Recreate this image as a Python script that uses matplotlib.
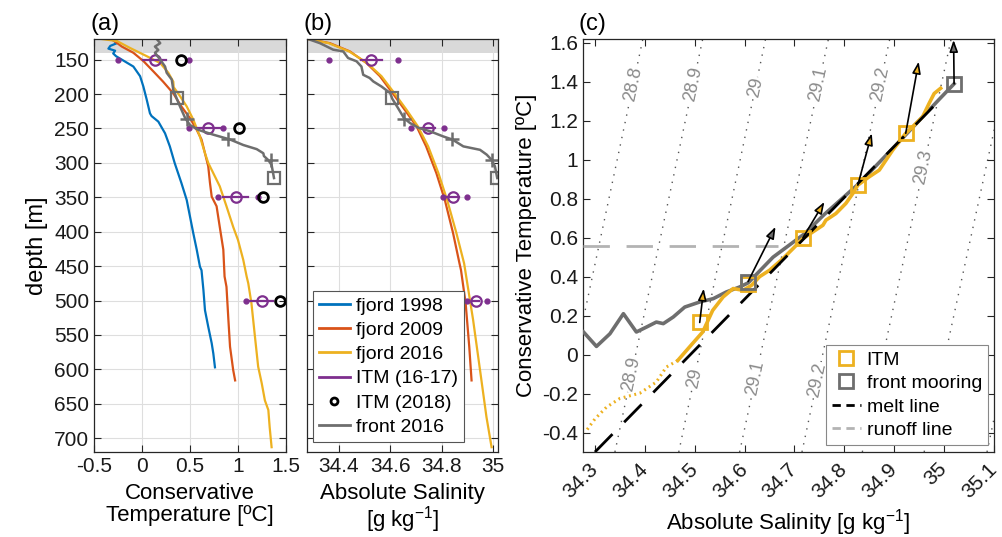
import numpy as np
import matplotlib
matplotlib.use('Agg')
import matplotlib.pyplot as plt
from matplotlib.lines import Line2D
from matplotlib.ticker import FuncFormatter

plt.rcParams['font.family'] = ['Liberation Sans', 'DejaVu Sans']
plt.rcParams['axes.unicode_minus'] = False
plt.rcParams['mathtext.default'] = 'regular'

c_blue = '#0072BD'
c_red = '#D95319'
c_yel = '#EDB120'
c_pur = '#7E2F8E'
c_gray = '#6e6e6e'
c_lgray = '#b3b3b3'
c_ax = '#262626'

# ---- panel (a): temperature profiles ----
d98 = [122, 126, 130, 134, 137, 141, 145, 150, 160, 174, 189, 208, 228, 232, 240, 257, 276, 300,
       329, 354, 378, 402, 426, 451, 456, 485, 514, 538, 562, 577, 597]
t98 = [-0.30, -0.26, -0.33, -0.35, -0.28, -0.30, -0.27, -0.21, -0.09, -0.02, 0.014, 0.049, 0.083,
       0.10, 0.17, 0.24, 0.29, 0.34, 0.41, 0.466, 0.50, 0.534, 0.57, 0.604, 0.62, 0.64, 0.656,
       0.69, 0.726, 0.743, 0.76]

d09 = [120, 131, 140, 152, 167, 182, 199, 218, 235, 252, 266, 286, 305, 329, 349, 363, 393, 426,
       465, 480, 528, 567, 601, 616]
t09 = [-0.316, -0.21, -0.09, 0.014, 0.118, 0.22, 0.326, 0.41, 0.50, 0.57, 0.62, 0.656, 0.69,
       0.708, 0.726, 0.777, 0.81, 0.847, 0.86, 0.88, 0.90, 0.917, 0.95, 0.97]

d16 = [120, 123, 133, 145, 155, 169, 182, 190, 203, 218, 237, 262, 286, 300, 315, 334, 363, 393,
       412, 441, 465, 475, 504, 553, 596, 620, 645, 659, 684, 713]
t16 = [-0.42, -0.26, -0.125, 0.05, 0.19, 0.274, 0.326, 0.33, 0.396, 0.466, 0.534, 0.604, 0.656,
       0.69, 0.743, 0.81, 0.88, 0.95, 1.0, 1.055, 1.09, 1.107, 1.14, 1.177, 1.21, 1.247, 1.28,
       1.316, 1.33, 1.35]

dfr = [120, 126, 131, 136, 140, 150, 160, 169, 179, 194, 206, 218, 235, 245, 252, 259, 266, 274,
       280, 286, 290, 296, 303, 322]
tfr = [0.153, 0.19, 0.135, 0.17, 0.135, 0.19, 0.24, 0.257, 0.31, 0.326, 0.36, 0.396, 0.45, 0.50,
       0.587, 0.743, 0.917, 1.055, 1.195, 1.264, 1.27, 1.316, 1.35, 1.375]
dfr_sq = [206, 322]
tfr_sq = [0.36, 1.375]
dfr_pl = [236, 266, 295.5]
tfr_pl = [0.466, 0.90, 1.34]

itm_d = [150, 250, 350, 500]
itm_t = [0.135, 0.69, 0.976, 1.245]
itm_t_sd = [0.12, 0.14, 0.13, 0.12]
itm_t_min = [-0.247, 0.49, 0.795, 1.08]
itm_t_max = [0.49, 0.84, 1.21, 1.514]
itm18_t = [0.403, 1.014, 1.264, 1.44]

# ---- panel (b): salinity profiles ----
d09s = [120, 126, 138, 155, 174, 199, 223, 247, 276, 315, 354, 402, 446, 456, 504, 567, 616]
s09 = [34.28, 34.365, 34.443, 34.508, 34.56, 34.61, 34.657, 34.703, 34.74, 34.78, 34.813, 34.845,
       34.87, 34.876, 34.894, 34.908, 34.917]
d16s = [120, 126, 138, 155, 174, 199, 223, 247, 276, 315, 354, 402, 446, 528, 601, 669, 713]
s16 = [34.28, 34.36, 34.44, 34.51, 34.566, 34.617, 34.664, 34.708, 34.748, 34.788, 34.822,
       34.858, 34.888, 34.923, 34.95, 34.975, 34.995]
dfr_b = [120, 126, 135.5, 138, 147.6, 152.4, 160, 172, 176.6, 181.6, 189, 198.5, 206.7, 220, 235,
         242, 249, 254, 261.6, 266, 276, 281, 288, 295.5, 305, 322]
sfr = [34.28, 34.326, 34.378, 34.417, 34.436, 34.469, 34.488, 34.495, 34.52, 34.534, 34.566, 34.60,
       34.608, 34.63, 34.654, 34.677, 34.71, 34.755, 34.807, 34.842, 34.885, 34.95, 34.976,
       34.995, 35.008, 35.017]
sfr_sq = [34.608, 35.017]
sfr_pl = [34.654, 34.842, 34.995]
itm_s = [34.527, 34.748, 34.845, 34.933]
itm_s_sd = [0.04, 0.026, 0.025, 0.012]
itm_s_min = [34.362, 34.68, 34.804, 34.898]
itm_s_max = [34.629, 34.81, 34.90, 34.976]

# ---- panel (c): T-S diagram ----
sig_val = ['28.8', '28.9', '29', '29.1', '29.2', '29.3', '29.4', '29.5']
sig_s_bot = [34.22, 34.34, 34.468, 34.59, 34.715, 34.836, 34.96, 35.086]
sig_s_top = [34.396, 34.516, 34.642, 34.768, 34.891, 35.014, 35.14, 35.26]
sig_lab_val = ['28.8', '28.9', '29', '29.1', '29.2', '29.3', '28.9', '29', '29.1', '29.2']
sig_lab_t = [1.39, 1.39, 1.37, 1.39, 1.39, 0.965, -0.10, -0.12, -0.12, -0.13]

sfc = [34.277, 34.303, 34.33, 34.357, 34.383, 34.403, 34.423, 34.437, 34.457, 34.48, 34.51,
       34.537, 34.563, 34.59, 34.607, 34.657, 34.72, 34.76, 34.83, 34.92, 34.99, 35.02]
tfc = [0.116, 0.042, 0.107, 0.21, 0.116, 0.141, 0.167, 0.159, 0.193, 0.244, 0.27, 0.287, 0.321,
       0.347, 0.368, 0.50, 0.62, 0.72, 0.88, 1.12, 1.31, 1.39]

sit = [34.466, 34.496, 34.516, 34.536, 34.557, 34.577, 34.597, 34.614, 34.63, 34.65, 34.677,
       34.697, 34.717, 34.737, 34.757, 34.763, 34.783, 34.803, 34.817, 34.827, 34.85, 34.87,
       34.897, 34.923, 34.937, 34.957, 34.97, 34.98, 34.993]
tit = [-0.03, 0.058, 0.116, 0.227, 0.296, 0.339, 0.33, 0.356, 0.40, 0.433, 0.493, 0.544, 0.596,
       0.63, 0.664, 0.69, 0.724, 0.776, 0.827, 0.87, 0.913, 0.947, 1.05, 1.136, 1.17, 1.221,
       1.29, 1.34, 1.367]
sit_ext = [34.466, 34.443, 34.423, 34.39, 34.35, 34.323, 34.30, 34.28]
tit_ext = [-0.03, -0.064, -0.141, -0.198, -0.225, -0.27, -0.33, -0.40]

itm_sq_s = [34.51, 34.607, 34.717, 34.827, 34.923]
itm_sq_t = [0.165, 0.36, 0.60, 0.87, 1.136]
fm_sq_s = [34.606, 35.02]
fm_sq_t = [0.375, 1.39]

arr_s0 = [34.51, 34.607, 34.717, 34.827, 34.923, 35.02]
arr_t0 = [0.165, 0.375, 0.60, 0.87, 1.136, 1.39]
arr_s1 = [34.518, 34.662, 34.76, 34.855, 34.949, 35.019]
arr_t1 = [0.339, 0.656, 0.784, 1.136, 1.504, 1.615]
arr_col = [c_yel, c_gray, c_yel, c_yel, c_yel, c_gray]

melt_s = [34.30, 35.0]
melt_t = [-0.5, 1.33]
runoff_s = [34.276, 34.666]
runoff_t = [0.56, 0.56]

fig = plt.figure(figsize=(10.03, 5.37), dpi=100)
W, H = 1003.0, 537.0
bot = 1 - 452 / H
hgt = 413 / H
ax_a = fig.add_axes([94 / W, bot, 192 / W, hgt])
ax_b = fig.add_axes([307 / W, bot, 191 / W, hgt])
ax_c = fig.add_axes([583 / W, bot, 411 / W, hgt])

fmt = FuncFormatter(lambda v, p: '%g' % round(v, 4))


def style(ax):
    for sp in ax.spines.values():
        sp.set_color(c_ax)
        sp.set_linewidth(0.9)
    ax.tick_params(direction='in', top=True, right=True, length=5, width=0.8,
                   colors=c_ax, labelsize=15, labelcolor='#1a1a1a')
    ax.xaxis.set_major_formatter(fmt)
    ax.yaxis.set_major_formatter(fmt)


# panel (a)
ax = ax_a
ax.axhspan(120, 140, color='#d9d9d9', zorder=0.5, lw=0)
ax.plot(t98, d98, color=c_blue, lw=1.6)
ax.plot(t09, d09, color=c_red, lw=1.6)
ax.plot(t16, d16, color=c_yel, lw=1.6)
for i in range(len(itm_d)):
    ax.plot([itm_t[i] - itm_t_sd[i], itm_t[i] + itm_t_sd[i]], [itm_d[i], itm_d[i]], color=c_pur, lw=1.6)
ax.plot(itm_t, itm_d, 'o', mfc='none', mec=c_pur, ms=7.5, mew=1.6)
ax.plot(itm_t_min + itm_t_max, itm_d + itm_d, 'o', color=c_pur, ms=3.5)
ax.plot(itm18_t, itm_d, 'o', mfc='none', mec='k', ms=7, mew=2)
ax.plot(tfr, dfr, color=c_gray, lw=1.8)
ax.plot(tfr_sq, dfr_sq, 's', mfc='none', mec=c_gray, ms=9, mew=1.6)
ax.plot(tfr_pl, dfr_pl, '+', color=c_gray, ms=10, mew=1.8)
ax.set_xlim(-0.5, 1.5)
ax.set_ylim(720, 120)
ax.set_xticks([-0.5, 0, 0.5, 1, 1.5])
ax.set_yticks(np.arange(150, 701, 50))
ax.grid(True, color='#dedede', lw=0.8)
ax.set_axisbelow(True)
style(ax)
ax.set_xlabel('Conservative\nTemperature [ºC]', fontsize=16, labelpad=5, linespacing=1.05)
ax.set_ylabel('depth [m]', fontsize=17)

# panel (b)
ax = ax_b
ax.axhspan(120, 140, color='#d9d9d9', zorder=0.5, lw=0)
ax.plot(s09, d09s, color=c_red, lw=1.6)
ax.plot(s16, d16s, color=c_yel, lw=1.6)
for i in range(len(itm_d)):
    ax.plot([itm_s[i] - itm_s_sd[i], itm_s[i] + itm_s_sd[i]], [itm_d[i], itm_d[i]], color=c_pur, lw=1.6)
ax.plot(itm_s, itm_d, 'o', mfc='none', mec=c_pur, ms=7.5, mew=1.6)
ax.plot(itm_s_min + itm_s_max, itm_d + itm_d, 'o', color=c_pur, ms=3.5)
ax.plot(sfr, dfr_b, color=c_gray, lw=1.8)
ax.plot(sfr_sq, dfr_sq, 's', mfc='none', mec=c_gray, ms=9, mew=1.6)
ax.plot(sfr_pl, dfr_pl, '+', color=c_gray, ms=10, mew=1.8)
ax.set_xlim(34.276, 35.02)
ax.set_ylim(720, 120)
ax.set_xticks([34.4, 34.6, 34.8, 35])
ax.set_yticks(np.arange(150, 701, 50))
ax.grid(True, color='#dedede', lw=0.8)
ax.set_axisbelow(True)
style(ax)
ax.tick_params(labelleft=False)
ax.set_xlabel('Absolute Salinity\n[g kg$^{-1}$]', fontsize=16, labelpad=5, linespacing=1.0)
h = [Line2D([], [], color=c_blue, lw=2), Line2D([], [], color=c_red, lw=2),
     Line2D([], [], color=c_yel, lw=2), Line2D([], [], color=c_pur, lw=2),
     Line2D([], [], ls='none', marker='o', mfc='none', mec='k', ms=5, mew=2),
     Line2D([], [], color=c_gray, lw=2)]
lab = ['fjord 1998', 'fjord 2009', 'fjord 2016', 'ITM (16-17)', 'ITM (2018)', 'front 2016']
leg = ax.legend(h, lab, loc='lower left', bbox_to_anchor=(0.03, 0.025), borderaxespad=0,
                fontsize=14, handlelength=1.6, handletextpad=0.35, labelspacing=0.34,
                fancybox=False, framealpha=1, edgecolor='#555555', borderpad=0.3)
leg.get_frame().set_linewidth(0.8)

# panel (c)
ax = ax_c
for i in range(len(sig_val)):
    ax.plot([sig_s_bot[i], sig_s_top[i]], [-0.5, 1.62], color='#555555', lw=1.0,
            ls=(0, (1, 4.5)), zorder=1)
ang = np.degrees(np.arctan2(194.5, (sig_s_top[2] - sig_s_bot[2]) / 2.12 * 500))
for v, t in zip(sig_lab_val, sig_lab_t):
    k = sig_val.index(v)
    s = np.interp(t, [-0.5, 1.62], [sig_s_bot[k], sig_s_top[k]])
    ax.text(s, t, v, rotation=ang, ha='center', va='center', fontsize=13, color='#8a8a8a',
            rotation_mode='anchor', zorder=2,
            bbox=dict(fc='white', ec='none', pad=0.5))
ax.plot(runoff_s, runoff_t, color=c_lgray, lw=2, ls=(0, (9.5, 6)), zorder=3)
ax.plot(sfc, tfc, color=c_gray, lw=2.6, zorder=4)
ax.plot(sit, tit, color=c_yel, lw=2.6, zorder=5)
ax.plot(sit_ext, tit_ext, color=c_yel, lw=2.2, ls=(0, (0.6, 1.2)), zorder=5)
ax.plot(melt_s, melt_t, color='k', lw=2, ls=(0, (9, 6)), zorder=6)
ax.plot(itm_sq_s, itm_sq_t, 's', mfc='none', mec=c_yel, ms=10, mew=2, zorder=7)
ax.plot(fm_sq_s, fm_sq_t, 's', mfc='none', mec=c_gray, ms=10, mew=2, zorder=7)
for i in range(len(arr_s0)):
    ax.annotate('', xy=(arr_s1[i], arr_t1[i]), xytext=(arr_s0[i], arr_t0[i]),
                arrowprops=dict(arrowstyle='-|>,head_length=0.7,head_width=0.25', fc=arr_col[i],
                                ec='k', lw=1.2, shrinkA=0, shrinkB=0), zorder=8)
ax.set_xlim(34.276, 35.1)
ax.set_ylim(-0.5, 1.62)
ax.set_xticks(np.round(np.arange(34.3, 35.11, 0.1), 1))
ax.set_yticks(np.round(np.arange(-0.4, 1.61, 0.2), 1))
style(ax)
plt.setp(ax.get_xticklabels(), rotation=45, ha='right', va='center', rotation_mode='anchor')
ax.tick_params(axis='x', pad=10)
ax.set_xlabel('Absolute Salinity [g kg$^{-1}$]', fontsize=16)
ax.set_ylabel('Conservative Temperature [ºC]', fontsize=16)
h = [Line2D([], [], ls='none', marker='s', mfc='none', mec=c_yel, ms=10, mew=2),
     Line2D([], [], ls='none', marker='s', mfc='none', mec=c_gray, ms=10, mew=2),
     Line2D([], [], color='k', lw=2, ls=(0, (3, 2))),
     Line2D([], [], color=c_lgray, lw=2, ls=(0, (3, 2)))]
lab = ['ITM', 'front mooring', 'melt line', 'runoff line']
leg = ax.legend(h, lab, loc='lower right', bbox_to_anchor=(0.985, 0.017), borderaxespad=0,
                fontsize=14, handlelength=1.5, handletextpad=0.3, labelspacing=0.3,
                fancybox=False, framealpha=1, edgecolor='#888888', borderpad=0.3)
leg.get_frame().set_linewidth(0.8)
leg.set_zorder(10)

fig.text(90 / W, 1 - 35 / H, '(a)', fontsize=17, va='bottom', ha='left')
fig.text(304 / W, 1 - 35 / H, '(b)', fontsize=17, va='bottom', ha='left')
fig.text(579 / W, 1 - 35 / H, '(c)', fontsize=17, va='bottom', ha='left')

fig.savefig('out.png', dpi=100)
